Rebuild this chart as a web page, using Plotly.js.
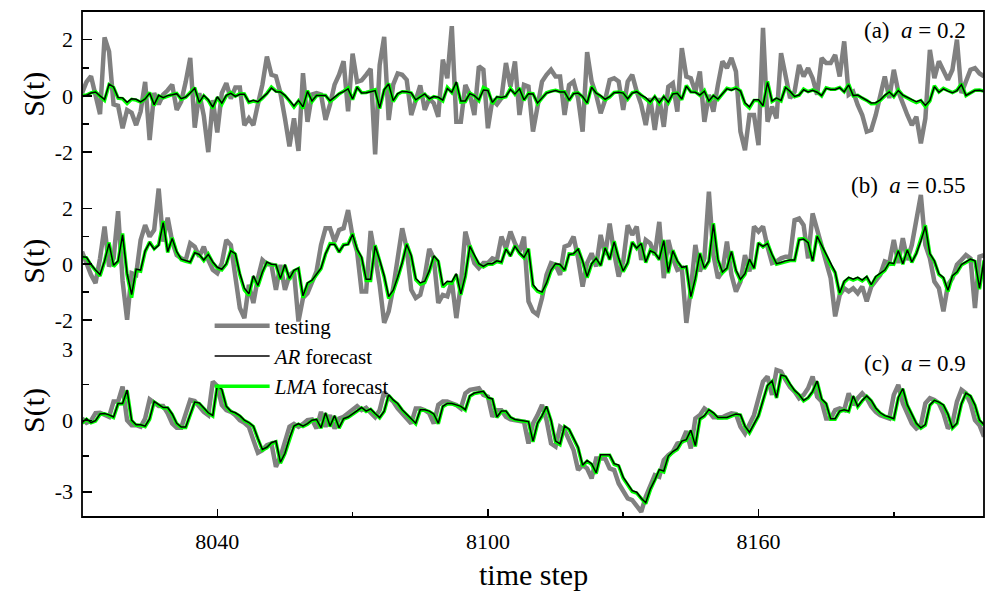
<!DOCTYPE html>
<html>
<head>
<meta charset="utf-8">
<script src="https://cdn.plot.ly/plotly-3.0.1.min.js"></script>
<style>html,body{margin:0;padding:0;background:#fff;}#chart{width:986px;height:592px;}</style>
</head>
<body>
<div id="chart"></div>
<script>
// time steps 8010 ... 8210
const firstStep = 8010;
const lastStep = 8210;

// ---- panel (a) a = 0.2 ----
const testingA = [0.1,0.5,0.7,0.0,-0.65,2.08,1.58,-0.3,-0.35,-1.15,-0.5,-0.6,-1.04,-0.55,0.5,-1.57,0.1,-0.3,0.05,0.2,
0.4,-0.5,-0.2,0.5,1.35,-1.13,0.1,-0.7,-2.0,-0.15,-1.3,0.1,0.45,-0.1,0.3,0.3,-1.04,-0.8,-1.04,-0.3,
0.4,1.4,0.75,0.7,0.1,-0.8,-1.8,-0.8,-1.96,0.81,-0.92,0.05,0.1,0.05,-0.85,-0.3,0.4,0.75,1.23,-0.55,
1.5,0.5,0.55,0.75,0.96,-2.08,1.1,2.1,-0.86,0.4,0.8,0.75,0.57,-0.68,-0.1,0.37,-0.5,-0.1,-0.26,-0.74,
1.29,0.63,2.48,-0.92,-0.92,0.39,0.04,-0.68,1.05,0.93,-1.15,-0.14,-0.3,-0.08,1.17,0.33,1.23,-0.68,0.39,0.33,
-1.27,-0.32,0.51,0.75,0.93,0.69,0.69,-0.68,0.39,0.51,-0.08,-1.27,1.56,0.51,0.04,-0.62,-0.14,0.57,0.63,0.51,
-0.5,0.51,0.75,0.15,-0.32,-1.04,-0.08,-1.21,-0.08,-1.1,0.33,0.45,-0.56,1.7,0.69,0.63,0.15,0.87,-0.92,0.04,
-0.56,0.39,1.23,0.99,1.35,0.87,-1.27,-1.93,-0.68,-0.68,-1.75,2.42,-0.92,-0.38,-0.8,1.52,0.81,-0.08,0.15,1.1,
0.69,0.99,0.63,0.04,1.35,1.17,1.17,1.46,0.69,1.94,0.04,0.15,-0.32,-0.68,-1.27,-1.21,-0.68,0.1,0.69,-0.08,
0.93,0.15,-0.32,-0.68,-1.04,-0.74,-1.69,-0.8,1.64,0.63,1.23,0.87,0.57,0.93,2.0,0.1,0.51,0.93,0.99,0.8,0.7];
const arA = [0.0,0.02,0.1,0.14,0.0,-0.13,0.42,0.32,-0.06,-0.07,-0.23,-0.1,-0.12,-0.21,-0.11,0.1,-0.31,0.02,-0.06,0.01,
0.04,0.08,-0.1,-0.04,0.1,0.27,-0.23,0.02,-0.14,-0.4,-0.03,-0.26,0.02,0.09,-0.02,0.06,0.06,-0.21,-0.16,-0.21,
-0.06,0.08,0.28,0.15,0.14,0.02,-0.16,-0.36,-0.16,-0.39,0.16,-0.18,0.01,0.02,0.01,-0.17,-0.06,0.08,0.15,0.25,
-0.11,0.3,0.1,0.11,0.15,0.19,-0.42,0.22,0.42,-0.17,0.08,0.16,0.15,0.11,-0.14,-0.02,0.07,-0.1,-0.02,-0.05,
-0.15,0.26,0.13,0.5,-0.18,-0.18,0.08,0.01,-0.14,0.21,0.19,-0.23,-0.03,-0.06,-0.02,0.23,0.07,0.25,-0.14,0.08,
0.07,-0.25,-0.06,0.1,0.15,0.19,0.14,0.14,-0.14,0.08,0.1,-0.02,-0.25,0.31,0.1,0.01,-0.12,-0.03,0.11,0.13,
0.1,-0.1,0.1,0.15,0.03,-0.06,-0.21,-0.02,-0.24,-0.02,-0.22,0.07,0.09,-0.11,0.34,0.14,0.13,0.03,0.17,-0.18,
0.01,-0.11,0.08,0.25,0.2,0.27,0.17,-0.25,-0.39,-0.14,-0.14,-0.35,0.48,-0.18,-0.08,-0.16,0.3,0.16,-0.02,0.03,
0.22,0.14,0.2,0.13,0.01,0.27,0.23,0.23,0.29,0.14,0.39,0.01,0.03,-0.06,-0.14,-0.25,-0.24,-0.14,0.02,0.14,
-0.02,0.19,0.03,-0.06,-0.14,-0.21,-0.15,-0.34,-0.16,0.33,0.13,0.25,0.17,0.11,0.19,0.4,0.02,0.1,0.19,0.2,0.16];
const lmaA = [0.01,0.03,0.11,0.15,-0.02,-0.16,0.4,0.3,-0.08,-0.1,-0.27,-0.12,-0.15,-0.22,-0.1,0.12,-0.34,0.0,-0.07,0.0,
0.05,0.09,-0.12,-0.05,0.12,0.29,-0.26,0.0,-0.16,-0.44,-0.05,-0.3,0.0,0.12,-0.01,0.08,0.07,-0.23,-0.18,-0.22,
-0.08,0.09,0.31,0.17,0.15,0.01,-0.18,-0.4,-0.18,-0.45,0.19,-0.2,0.0,0.03,0.02,-0.2,-0.08,0.07,0.17,0.28,
-0.13,0.32,0.11,0.12,0.17,0.22,-0.45,0.2,0.44,-0.2,0.06,0.15,0.14,0.1,-0.17,-0.03,0.06,-0.12,-0.03,-0.07,
-0.18,0.3,0.12,0.47,-0.22,-0.2,0.1,0.0,-0.17,0.3,0.22,-0.28,-0.05,-0.07,-0.03,0.27,0.06,0.28,-0.16,0.09,
0.08,-0.28,-0.08,0.11,0.17,0.2,0.15,0.15,-0.17,0.09,0.11,-0.04,-0.28,0.34,0.11,0.0,-0.14,-0.04,0.12,0.14,
0.11,-0.12,0.11,0.16,0.02,-0.08,-0.24,-0.03,-0.27,-0.03,-0.25,0.08,0.1,-0.14,0.37,0.15,0.14,0.02,0.19,-0.21,
0.0,-0.13,0.09,0.27,0.22,0.29,0.18,-0.28,-0.43,-0.16,-0.16,-0.38,0.52,-0.2,-0.1,-0.18,0.33,0.17,-0.03,0.02,
0.24,0.15,0.21,0.14,0.0,0.29,0.24,0.24,0.3,0.15,0.42,0.0,0.02,-0.08,-0.16,-0.28,-0.27,-0.16,0.01,0.15,
-0.03,0.21,0.02,-0.08,-0.16,-0.24,-0.17,-0.38,-0.18,0.36,0.14,0.27,0.18,0.12,0.2,0.43,0.01,0.11,0.2,0.21,0.17];

// ---- panel (b) a = 0.55 ----
const testingB = [0.45,0.0,-0.38,-0.68,0.21,1.35,-0.08,0.21,1.9,-0.6,-1.99,-0.32,-0.38,0.87,1.4,0.99,1.23,2.71,0.81,1.67,
0.81,0.33,0.21,0.15,0.75,0.63,0.27,0.63,0.15,-0.2,-0.32,0.04,0.87,0.69,-0.6,-1.57,-1.93,-0.74,-1.39,-0.5,
0.15,0.0,-0.02,-0.92,-0.02,-0.92,-0.4,-0.26,-2.05,-1.21,-1.04,-0.62,-0.26,0.69,1.29,1.29,0.81,1.23,1.29,1.94,
0.99,0.45,-0.98,-0.98,1.19,0.27,-0.74,-2.1,-1.69,-0.86,0.1,1.29,0.57,-0.92,-1.21,-1.1,-0.44,0.55,0.21,-1.39,
-1.1,-1.15,-0.62,-1.93,-0.74,1.17,0.57,0.04,-0.14,0.04,0.04,0.21,0.15,0.99,0.57,1.17,0.75,0.45,0.99,-1.33,
-1.69,-1.81,-1.21,-0.38,0.04,-0.02,-0.38,0.63,0.69,0.99,0.21,-0.8,0.04,0.39,-0.08,1.05,0.33,1.46,0.39,-0.44,
0.1,1.4,1.05,1.35,0.15,0.87,0.75,0.33,1.52,-0.5,0.87,0.21,-0.2,-0.14,-2.1,-0.9,0.69,-0.26,0.21,2.6,
0.33,-0.5,-0.26,0.81,-0.38,-0.98,-0.62,0.33,-0.26,1.35,1.17,1.35,0.63,0.04,0.1,0.21,0.27,0.27,1.58,1.64,
1.4,0.21,1.82,1.23,0.57,-0.02,-0.5,-1.87,-1.1,-0.86,-0.98,-0.86,-1.04,-0.8,-1.33,-0.8,-0.62,-0.38,0.1,0.04,
0.87,0.04,0.93,0.15,0.69,1.5,2.48,0.69,0.21,-0.62,-0.86,-1.69,-0.74,-0.5,-0.02,0.15,0.33,0.21,-1.57,0.27,0.33];
const arB = [0.27,0.25,0.0,-0.21,-0.37,0.12,0.74,-0.04,0.12,1.05,-0.33,-1.09,-0.18,-0.21,0.48,0.77,0.54,0.68,1.49,0.45,
0.92,0.45,0.18,0.12,0.08,0.41,0.35,0.15,0.35,0.08,-0.11,-0.18,0.02,0.48,0.38,-0.33,-0.86,-1.06,-0.41,-0.76,
-0.28,0.08,0.0,-0.01,-0.51,-0.01,-0.51,-0.22,-0.14,-1.13,-0.67,-0.57,-0.34,-0.14,0.38,0.71,0.71,0.45,0.68,0.71,
1.07,0.54,0.25,-0.54,-0.54,0.65,0.15,-0.41,-1.16,-0.93,-0.47,0.06,0.71,0.31,-0.51,-0.67,-0.61,-0.24,0.3,0.12,
-0.76,-0.61,-0.63,-0.34,-1.06,-0.41,0.64,0.31,0.02,-0.08,0.02,0.02,0.12,0.08,0.54,0.31,0.64,0.41,0.25,0.54,
-0.73,-0.93,-1.0,-0.67,-0.21,0.02,-0.01,-0.21,0.35,0.38,0.54,0.12,-0.44,0.02,0.21,-0.04,0.58,0.18,0.8,0.21,
-0.24,0.06,0.77,0.58,0.74,0.08,0.48,0.41,0.18,0.84,-0.28,0.48,0.12,-0.11,-0.08,-1.16,-0.5,0.38,-0.14,0.12,
1.43,0.18,-0.28,-0.14,0.45,-0.21,-0.54,-0.34,0.18,-0.14,0.74,0.64,0.74,0.35,0.02,0.06,0.12,0.15,0.15,0.87,
0.9,0.77,0.12,1.0,0.68,0.31,-0.01,-0.28,-1.03,-0.61,-0.47,-0.54,-0.47,-0.57,-0.44,-0.73,-0.44,-0.34,-0.21,0.06,
0.02,0.48,0.02,0.51,0.08,0.38,0.83,1.36,0.38,0.12,-0.34,-0.47,-0.93,-0.41,-0.28,-0.01,0.08,0.18,0.12,-0.86,0.15];
const lmaB = [0.25,0.23,-0.03,-0.25,-0.42,0.1,0.78,-0.08,0.1,1.1,-0.38,-1.2,-0.22,-0.25,0.45,0.8,0.55,0.7,1.55,0.42,
0.95,0.43,0.16,0.1,0.06,0.43,0.33,0.13,0.36,0.06,-0.14,-0.2,0.0,0.5,0.36,-0.38,-0.92,-1.12,-0.44,-0.8,
-0.3,0.06,-0.02,-0.03,-0.55,-0.03,-0.55,-0.24,-0.16,-1.2,-0.7,-0.6,-0.36,-0.16,0.36,0.74,0.73,0.43,0.7,0.73,
1.1,0.52,0.22,-0.58,-0.58,0.68,0.12,-0.45,-1.22,-0.98,-0.5,0.04,0.74,0.29,-0.55,-0.72,-0.66,-0.27,0.28,0.1,
-0.82,-0.66,-0.68,-0.37,-1.1,-0.44,0.67,0.28,0.0,-0.1,0.0,0.0,0.1,0.06,0.57,0.29,0.66,0.39,0.23,0.56,
-0.78,-0.97,-1.04,-0.7,-0.24,0.0,-0.03,-0.24,0.37,0.36,0.56,0.1,-0.48,0.0,0.2,-0.06,0.6,0.16,0.83,0.19,
-0.27,0.04,0.8,0.56,0.76,0.06,0.5,0.39,0.16,0.87,-0.32,0.5,0.1,-0.13,-0.1,-1.22,-0.54,0.4,-0.17,0.1,
1.47,0.16,-0.31,-0.16,0.47,-0.24,-0.58,-0.37,0.16,-0.17,0.77,0.62,0.76,0.33,0.0,0.04,0.1,0.13,0.13,0.9,
0.92,0.79,0.1,1.03,0.66,0.29,-0.03,-0.3,-1.08,-0.64,-0.5,-0.57,-0.5,-0.6,-0.47,-0.77,-0.47,-0.36,-0.23,0.04,
0.0,0.5,0.0,0.53,0.06,0.4,0.86,1.4,0.36,0.1,-0.37,-0.5,-0.98,-0.44,-0.3,-0.03,0.06,0.16,0.1,-0.9,0.13];

// ---- panel (c) a = 0.9 ----
const testingC = [0.08,-0.1,-0.01,0.3,0.32,0.25,0.15,0.79,0.79,1.42,0.01,-0.2,-0.2,-0.27,0.08,0.88,0.72,0.6,0.6,0.3,
-0.13,-0.31,-0.31,0.3,0.86,0.81,0.58,0.36,0.22,1.63,1.44,0.65,0.43,0.36,0.22,0.01,-0.1,-0.27,-0.83,-1.36,
-1.25,-1.04,-0.97,-1.95,-1.53,-0.83,-0.27,-0.15,-0.27,-0.15,0.01,0.04,-0.34,0.36,-0.27,0.22,-0.34,0.08,0.15,0.3,
0.45,0.6,0.43,0.53,0.32,0.13,0.43,1.2,0.95,0.79,0.5,0.3,0.08,-0.13,0.5,0.5,0.43,0.3,-0.13,0.65,
0.79,0.79,0.72,0.65,0.5,1.14,1.28,1.3,1.35,1.07,1.0,0.15,0.43,0.43,0.15,0.04,0.01,0.01,-0.06,-0.97,
-0.13,0.22,0.65,0.01,-0.97,-1.1,-0.27,-0.41,-0.83,-1.25,-2.09,-1.88,-2.02,-2.44,-1.6,-1.6,-1.6,-2.02,-2.09,-2.65,
-3.0,-3.28,-3.35,-3.63,-3.84,-3.21,-2.79,-2.3,-2.37,-1.67,-1.46,-1.32,-0.97,-0.9,-0.45,-1.18,0.08,0.22,0.5,0.36,
0.13,0.13,0.13,0.22,0.3,0.27,-0.27,-0.55,-0.13,0.22,0.93,1.63,1.84,1.07,2.12,2.05,1.7,1.4,1.21,0.93,
1.07,1.35,1.84,1.0,0.79,0.08,0.08,0.43,0.5,0.43,1.14,0.65,0.93,1.14,0.93,0.58,0.36,0.22,0.15,0.08,
1.07,1.49,0.72,0.3,-0.13,-0.34,-0.2,0.72,0.93,0.86,0.72,0.3,-0.34,-0.13,0.79,1.28,1.14,0.72,0.01,-0.2,-0.69];
const arC = [-0.1,0.07,-0.09,-0.01,0.27,0.29,0.23,0.14,0.71,0.71,1.28,0.01,-0.18,-0.18,-0.24,0.07,0.79,0.65,0.54,0.54,
0.27,-0.12,-0.28,-0.28,0.27,0.77,0.73,0.52,0.32,0.2,1.47,1.3,0.59,0.39,0.32,0.2,0.01,-0.09,-0.24,-0.75,
-1.22,-1.13,-0.94,-0.87,-1.76,-1.38,-0.75,-0.24,-0.14,-0.24,-0.14,0.01,0.04,-0.31,0.32,-0.24,0.2,-0.31,0.07,0.14,
0.27,0.41,0.54,0.39,0.48,0.29,0.12,0.39,1.08,0.86,0.71,0.45,0.27,0.07,-0.12,0.45,0.45,0.39,0.27,-0.12,
0.59,0.71,0.71,0.65,0.59,0.45,1.03,1.15,1.17,1.22,0.96,0.9,0.14,0.39,0.39,0.14,0.04,0.01,0.01,-0.05,
-0.87,-0.12,0.2,0.59,0.01,-0.87,-0.99,-0.24,-0.37,-0.75,-1.13,-1.88,-1.69,-1.82,-2.2,-1.44,-1.44,-1.44,-1.82,-1.88,
-2.39,-2.7,-2.95,-3.02,-3.27,-3.46,-2.89,-2.51,-2.07,-2.13,-1.5,-1.31,-1.19,-0.87,-0.81,-0.41,-1.06,0.07,0.2,0.45,
0.32,0.12,0.12,0.12,0.2,0.27,0.24,-0.24,-0.5,-0.12,0.2,0.84,1.47,1.66,0.96,1.91,1.85,1.53,1.26,1.09,
0.84,0.96,1.22,1.66,0.9,0.71,0.07,0.07,0.39,0.45,0.39,1.03,0.59,0.84,1.03,0.84,0.52,0.32,0.2,0.14,
0.07,0.96,1.34,0.65,0.27,-0.12,-0.31,-0.18,0.65,0.84,0.77,0.65,0.27,-0.31,-0.12,0.71,1.15,1.03,0.65,0.01,-0.18];
const lmaC = [-0.12,0.05,-0.1,-0.03,0.25,0.28,0.21,0.12,0.69,0.7,1.25,-0.01,-0.2,-0.2,-0.26,0.05,0.77,0.63,0.52,0.52,
0.25,-0.14,-0.3,-0.3,0.25,0.75,0.71,0.5,0.3,0.18,1.45,1.27,0.57,0.37,0.3,0.18,-0.01,-0.11,-0.26,-0.78,
-1.25,-1.15,-0.96,-0.9,-1.8,-1.4,-0.77,-0.26,-0.16,-0.26,-0.16,-0.01,0.02,-0.33,0.3,-0.26,0.18,-0.33,0.05,0.12,
0.25,0.39,0.52,0.37,0.46,0.27,0.1,0.37,1.05,0.84,0.69,0.43,0.25,0.05,-0.14,0.43,0.43,0.37,0.25,-0.14,
0.57,0.69,0.69,0.63,0.57,0.43,1.01,1.13,1.15,1.2,0.94,0.88,0.12,0.37,0.37,0.12,0.02,-0.01,-0.01,-0.07,
-0.9,-0.14,0.18,0.57,-0.01,-0.9,-1.02,-0.26,-0.39,-0.78,-1.16,-1.92,-1.72,-1.85,-2.24,-1.47,-1.47,-1.47,-1.85,-1.92,
-2.43,-2.74,-2.99,-3.06,-3.31,-3.5,-2.93,-2.55,-2.1,-2.17,-1.53,-1.34,-1.22,-0.9,-0.84,-0.44,-1.1,0.05,0.18,0.43,
0.3,0.1,0.1,0.1,0.18,0.25,0.22,-0.26,-0.53,-0.14,0.18,0.82,1.45,1.63,0.94,1.88,1.82,1.5,1.24,1.07,
0.82,0.94,1.2,1.63,0.88,0.69,0.05,0.05,0.37,0.43,0.37,1.01,0.57,0.82,1.01,0.82,0.5,0.3,0.18,0.12,
0.05,0.94,1.32,0.63,0.25,-0.14,-0.33,-0.2,0.63,0.82,0.75,0.63,0.25,-0.33,-0.14,0.69,1.13,1.01,0.63,-0.01,-0.2];

const panelLabels = ['(a)', '(b)', '(c)'];
const aValues = ['0.2', '0.55', '0.9'];
const xTickVals = [8040, 8100, 8160];
const xMinorVals = [8070, 8130, 8190];
const seriesNames = ['testing', '<i>AR</i> forecast', '<i>LMA</i> forecast'];

const steps = [];
for (let s = firstStep; s <= lastStep; s++) steps.push(s);

const FONT = 'Liberation Serif';
const panels = [
  {y: 'y',  t: testingA, ar: arA, lma: lmaA},
  {y: 'y2', t: testingB, ar: arB, lma: lmaB},
  {y: 'y3', t: testingC, ar: arC, lma: lmaC}
];
const traces = [];
panels.forEach((p, i) => {
  const show = i === 0;
  traces.push({x: steps, y: p.t, xaxis: 'x', yaxis: p.y, type: 'scatter', mode: 'lines',
    name: seriesNames[0], legendrank: 1, showlegend: show,
    line: {color: '#808080', width: 4.5}});
  traces.push({x: steps, y: p.lma, xaxis: 'x', yaxis: p.y, type: 'scatter', mode: 'lines',
    name: seriesNames[2], legendrank: 3, showlegend: show,
    line: {color: '#00ff00', width: 3.5}});
  traces.push({x: steps, y: p.ar, xaxis: 'x', yaxis: p.y, type: 'scatter', mode: 'lines',
    name: seriesNames[1], legendrank: 2, showlegend: show,
    line: {color: '#000000', width: 1.5}});
});

function yAxis(domain, range, vals, minor) {
  return {
    domain: domain, range: range, anchor: 'x',
    tickmode: 'array', tickvals: vals, ticktext: vals.map(v => String(v)),
    ticks: 'inside', ticklen: 10, tickwidth: 1.5, tickcolor: '#000',
    minor: {tickmode: 'array', tickvals: minor, ticks: 'inside', ticklen: 7, tickwidth: 1.5, tickcolor: '#000'},
    showline: false, showgrid: false, zeroline: false,
    ticklabelstandoff: 8,
    tickfont: {family: FONT, size: 22, color: '#000'}
  };
}

const annY = [0.962, 0.656, 0.303];
const annotations = [];
for (let i = 0; i < 3; i++) {
  annotations.push({xref: 'paper', yref: 'paper', x: 0.982, y: annY[i], xanchor: 'right', yanchor: 'middle',
    showarrow: false, text: panelLabels[i] + '\u00a0\u00a0<i>a</i> = ' + aValues[i],
    font: {family: FONT, size: 23, color: '#000'}});
}
const sY = [0.835, 0.505, 0.21];
sY.forEach(v => annotations.push({xref: 'paper', yref: 'paper', x: -0.053, y: v, xanchor: 'center', yanchor: 'middle',
  showarrow: false, text: 'S(t)', textangle: -90, font: {family: FONT, size: 30, color: '#000'}}));
annotations.push({xref: 'paper', yref: 'paper', x: 0.5, y: -0.113, xanchor: 'center', yanchor: 'middle',
  showarrow: false, text: 'time step', font: {family: FONT, size: 30, color: '#000'}});

const layout = {
  width: 986, height: 592,
  margin: {l: 82, r: 2, t: 11, b: 75},
  paper_bgcolor: '#fff', plot_bgcolor: '#fff',
  showlegend: true,
  legend: {x: 0.1415, y: 0.418, xanchor: 'left', yanchor: 'top', bgcolor: 'rgba(0,0,0,0)',
    font: {family: FONT, size: 21, color: '#000'}, itemwidth: 55, tracegroupgap: 0, traceorder: 'normal'},
  xaxis: {
    domain: [0, 1], range: [firstStep, lastStep], anchor: 'y3',
    tickmode: 'array', tickvals: xTickVals, ticktext: xTickVals.map(String),
    ticks: 'inside', ticklen: 8, tickwidth: 1.5, tickcolor: '#000',
    minor: {tickmode: 'array', tickvals: xMinorVals, ticks: 'inside', ticklen: 5, tickwidth: 1.5, tickcolor: '#000'},
    showline: false, showgrid: false, zeroline: false,
    ticklabelstandoff: 9,
    tickfont: {family: FONT, size: 22, color: '#000'}
  },
  yaxis: yAxis([0.665, 1], [-3.01, 3.02], [-2, 0, 2], [-3, -1, 1, 3]),
  yaxis2: yAxis([0.333, 0.665], [-3.02, 3.0], [-2, 0, 2], [-3, -1, 1, 3]),
  yaxis3: yAxis([0, 0.333], [-4.06, 3.02], [-3, 0, 3], [-1.5, 1.5]),
  shapes: [{type: 'rect', xref: 'paper', yref: 'paper', x0: 0, x1: 1, y0: 0, y1: 1,
    line: {color: '#000', width: 1.8}, fillcolor: 'rgba(0,0,0,0)', layer: 'above'}],
  annotations: annotations
};

Plotly.newPlot('chart', traces, layout, {displayModeBar: false, staticPlot: true});
</script>
</body>
</html>
